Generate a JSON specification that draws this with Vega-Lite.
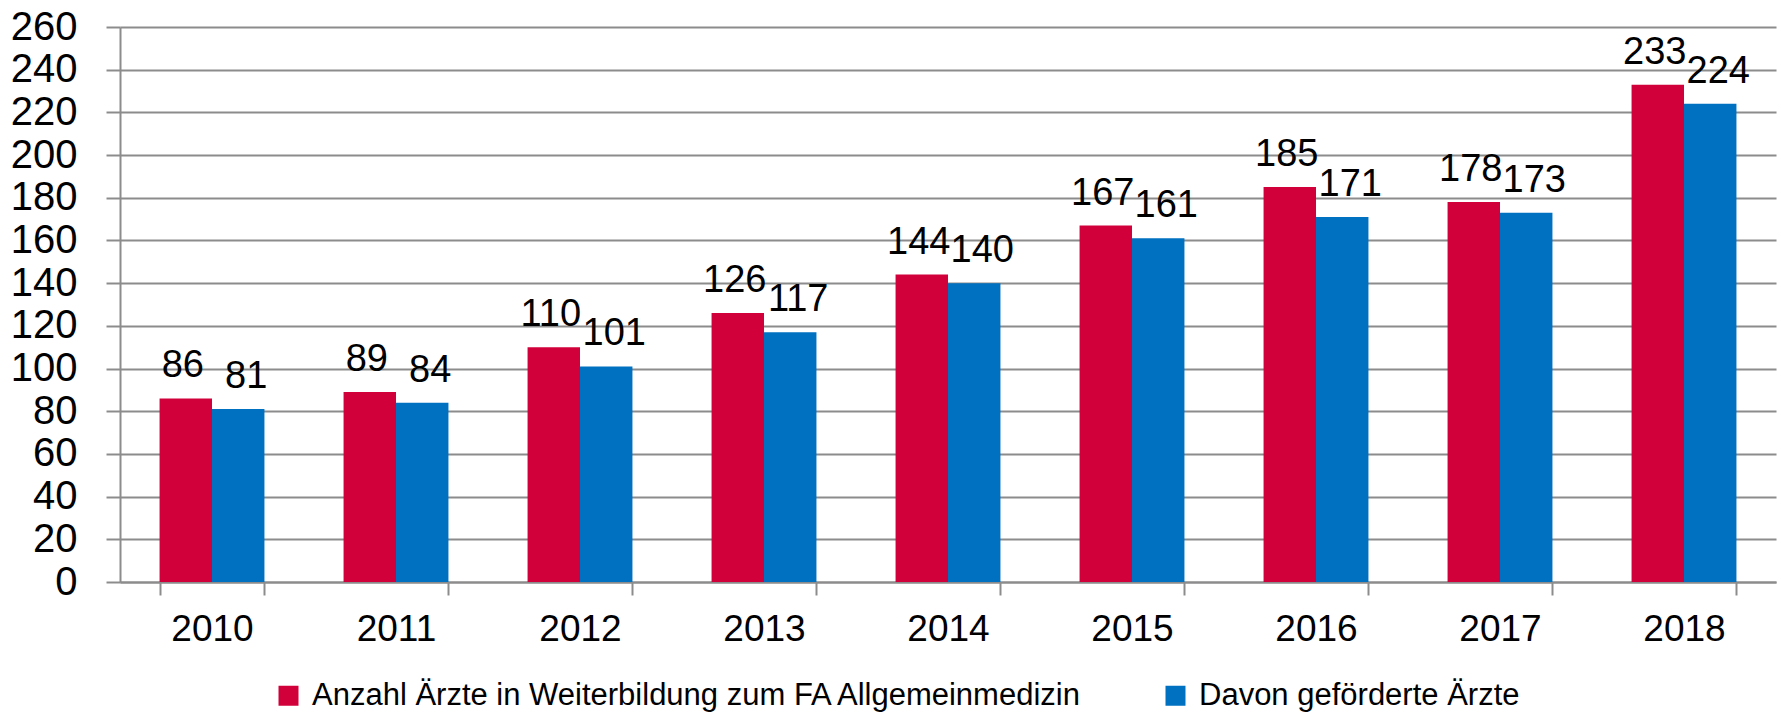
{
  "$schema": "https://vega.github.io/schema/vega-lite/v6.json",
  "width": 1656,
  "height": 555,
  "autosize": {"type": "none"},
  "padding": {"left": 120, "top": 27, "right": 5, "bottom": 135},
  "background": "white",
  "config": {
    "font": "Liberation Sans, Arial, sans-serif",
    "view": {"stroke": null}
  },
  "data": {
    "values": [
      {"year": "2010", "series": "Anzahl Ärzte in Weiterbildung zum FA Allgemeinmedizin", "value": 86},
      {"year": "2011", "series": "Anzahl Ärzte in Weiterbildung zum FA Allgemeinmedizin", "value": 89},
      {"year": "2012", "series": "Anzahl Ärzte in Weiterbildung zum FA Allgemeinmedizin", "value": 110},
      {"year": "2013", "series": "Anzahl Ärzte in Weiterbildung zum FA Allgemeinmedizin", "value": 126},
      {"year": "2014", "series": "Anzahl Ärzte in Weiterbildung zum FA Allgemeinmedizin", "value": 144},
      {"year": "2015", "series": "Anzahl Ärzte in Weiterbildung zum FA Allgemeinmedizin", "value": 167},
      {"year": "2016", "series": "Anzahl Ärzte in Weiterbildung zum FA Allgemeinmedizin", "value": 185},
      {"year": "2017", "series": "Anzahl Ärzte in Weiterbildung zum FA Allgemeinmedizin", "value": 178},
      {"year": "2018", "series": "Anzahl Ärzte in Weiterbildung zum FA Allgemeinmedizin", "value": 233},
      {"year": "2010", "series": "Davon geförderte Ärzte", "value": 81},
      {"year": "2011", "series": "Davon geförderte Ärzte", "value": 84},
      {"year": "2012", "series": "Davon geförderte Ärzte", "value": 101},
      {"year": "2013", "series": "Davon geförderte Ärzte", "value": 117},
      {"year": "2014", "series": "Davon geförderte Ärzte", "value": 140},
      {"year": "2015", "series": "Davon geförderte Ärzte", "value": 161},
      {"year": "2016", "series": "Davon geförderte Ärzte", "value": 171},
      {"year": "2017", "series": "Davon geförderte Ärzte", "value": 173},
      {"year": "2018", "series": "Davon geförderte Ärzte", "value": 224}
    ]
  },
  "encoding": {
    "x": {
      "field": "year", "type": "nominal",
      "scale": {"paddingInner": 0.43, "paddingOuter": 0.215},
      "axis": {
        "title": null, "labelAngle": 0, "labelFontSize": 37, "labelColor": "black",
        "domainColor": "#8c8c8c", "domainWidth": 2,
        "tickColor": "#8c8c8c", "tickWidth": 2, "tickSize": 13, "tickBand": "extent",
        "labelPadding": 16, "grid": false
      }
    },
    "y": {
      "field": "value", "type": "quantitative",
      "scale": {"domain": [0, 260], "nice": false},
      "axis": {
        "title": null, "values": [0,20,40,60,80,100,120,140,160,180,200,220,240,260],
        "labelFontSize": 40, "labelColor": "black", "labelPadding": 29, "labelOverlap": false,
        "domainColor": "#8c8c8c", "domainWidth": 2,
        "tickColor": "#8c8c8c", "tickWidth": 2, "tickSize": 14,
        "gridColor": "#8c8c8c", "gridWidth": 2, "grid": true
      }
    },
    "xOffset": {
      "field": "series", "type": "nominal",
      "scale": {"domain": ["Anzahl Ärzte in Weiterbildung zum FA Allgemeinmedizin", "Davon geförderte Ärzte"]}
    }
  },
  "layer": [
    {
      "mark": {"type": "bar"},
      "encoding": {
        "color": {
          "field": "series", "type": "nominal",
          "scale": {"domain": ["Anzahl Ärzte in Weiterbildung zum FA Allgemeinmedizin", "Davon geförderte Ärzte"], "range": ["#D2003A", "#0070C0"]},
          "legend": {
            "title": null, "orient": "none", "direction": "horizontal",
            "legendX": 153, "legendY": 653,
            "symbolType": "square", "symbolSize": 400, "symbolStrokeWidth": 0,
            "labelFontSize": 31, "labelColor": "black", "labelOffset": 8,
            "columnPadding": 76, "labelLimit": 1200
          }
        }
      }
    },
    {
      "transform": [{"filter": "datum.series == 'Anzahl Ärzte in Weiterbildung zum FA Allgemeinmedizin'"}],
      "mark": {"type": "text", "fontSize": 38, "baseline": "alphabetic", "dy": -21, "dx": -3, "color": "black"},
      "encoding": {"text": {"field": "value", "type": "quantitative"}}
    },
    {
      "transform": [{"filter": "datum.series == 'Davon geförderte Ärzte'"}],
      "mark": {"type": "text", "fontSize": 38, "baseline": "alphabetic", "dy": -21, "dx": 8, "color": "black"},
      "encoding": {"text": {"field": "value", "type": "quantitative"}}
    }
  ]
}
